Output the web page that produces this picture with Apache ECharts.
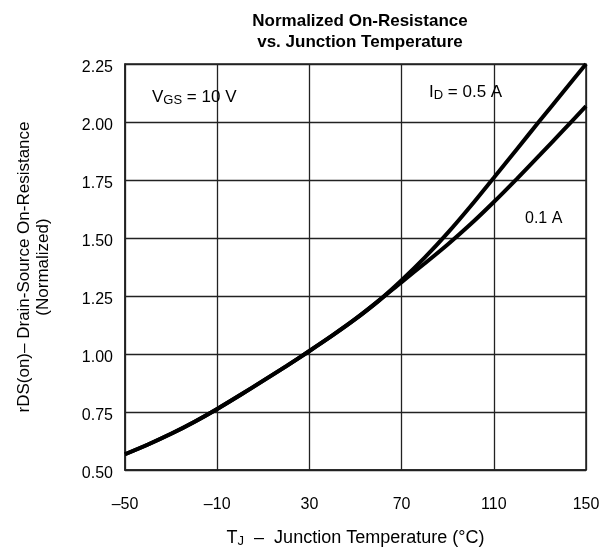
<!DOCTYPE html>
<html>
<head>
<meta charset="utf-8">
<script src="https://cdn.jsdelivr.net/npm/echarts@6/dist/echarts.min.js"></script>
<style>
html,body{margin:0;padding:0;background:#fff;}
#c{width:615px;height:553px;}
</style>
</head>
<body>
<div id="c"></div>
<script>
// Temperatures (°C)
var tempsCommon = [-50, -40, -30, -20, -10, 0, 10, 20, 30, 40, 50, 60];
var valsCommon  = [0.568, 0.61, 0.656, 0.707, 0.763, 0.823, 0.885, 0.948, 1.013, 1.08, 1.151, 1.229];
var tempsHigh   = [70, 80, 90, 100, 110, 120, 130, 140, 150];
var vals05A     = [1.318, 1.415, 1.522, 1.638, 1.76, 1.883, 2.006, 2.128, 2.25];
var vals01A     = [1.31, 1.39, 1.472, 1.56, 1.655, 1.755, 1.858, 1.963, 2.068];
var xTicks = [-50, -10, 30, 70, 110, 150];
var yTicks = [0.50, 0.75, 1.00, 1.25, 1.50, 1.75, 2.00, 2.25];

function pairs(xs, ys) { return xs.map(function (x, i) { return [x, ys[i]]; }); }
var series05 = pairs(tempsCommon, valsCommon).concat(pairs(tempsHigh, vals05A));
var series01 = pairs(tempsCommon, valsCommon).concat(pairs(tempsHigh, vals01A));

var FONT = 'Liberation Sans, Arial, sans-serif';
var chart = echarts.init(document.getElementById('c'), null, {renderer: 'canvas'});
var lineStyle = {color: '#000', width: 4};
var subRich = function (main, sub, pad) {
  return {m: {fontFamily: FONT, fontSize: main, fill: '#000', color: '#000'},
          s: {fontFamily: FONT, fontSize: sub, fill: '#000', color: '#000', padding: [pad, 0, 0, 0]}};
};
chart.setOption({
  animation: false,
  backgroundColor: '#fff',
  title: {
    text: 'Normalized On-Resistance\nvs. Junction Temperature',
    left: 355, top: 6, textAlign: 'center',
    textStyle: {fontFamily: FONT, fontSize: 17, fontWeight: 'bold', color: '#000', lineHeight: 21}
  },
  grid: {left: 125, right: 29, top: 64, bottom: 78, show: true, borderColor: '#222', borderWidth: 1.5},
  xAxis: {
    type: 'value', min: xTicks[0], max: xTicks[xTicks.length - 1], interval: 40,
    axisLine: {show: true, onZero: false, lineStyle: {color: '#222', width: 1.5}},
    axisTick: {show: false},
    splitLine: {show: true, lineStyle: {color: '#222', width: 1.3}},
    axisLabel: {fontFamily: FONT, fontSize: 16, color: '#000', margin: 27,
      formatter: function (v) { return String(v).replace('-', '\u2013'); }},
    name: '{m|T}{s|J}{m|  \u2013  Junction Temperature (\u00B0C)}',
    nameLocation: 'middle', nameGap: 58,
    nameTextStyle: {rich: subRich(18, 13, 7)}
  },
  yAxis: {
    type: 'value', min: yTicks[0], max: yTicks[yTicks.length - 1], interval: 0.25,
    axisLine: {show: true, onZero: false, lineStyle: {color: '#222', width: 1.5}},
    axisTick: {show: false},
    splitLine: {show: true, lineStyle: {color: '#222', width: 1.3}},
    axisLabel: {fontFamily: FONT, fontSize: 16, color: '#000', margin: 12,
      verticalAlign: 'top', lineHeight: 8,
      formatter: function (v) { return v.toFixed(2); }},
    name: 'rDS(on)\u2013 Drain-Source On-Resistance\n(Normalized)',
    nameLocation: 'middle', nameRotate: 90, nameGap: 72,
    nameTextStyle: {fontFamily: FONT, fontSize: 17, color: '#000', lineHeight: 19}
  },
  series: [
    {type: 'line', name: 'ID = 0.5 A', data: series05, smooth: 0.3, symbol: 'none', lineStyle: lineStyle, z: 3},
    {type: 'line', name: 'ID = 0.1 A', data: series01, smooth: 0.3, symbol: 'none', lineStyle: lineStyle, z: 3}
  ],
  graphic: [
    {type: 'text', left: 152, top: 89, z: 10, style: {
      text: '{m|V}{s|GS}{m| = 10 V}', rich: subRich(17, 13, 6)
    }},
    {type: 'text', left: 429, top: 84, z: 10, style: {
      text: '{m|I}{s|D}{m| = 0.5 A}', rich: subRich(17, 13, 6)
    }},
    {type: 'text', left: 525, top: 211, z: 10, style: {
      text: '0.1 A', font: '16px ' + FONT, fill: '#000'
    }}
  ]
});
</script>
</body>
</html>
